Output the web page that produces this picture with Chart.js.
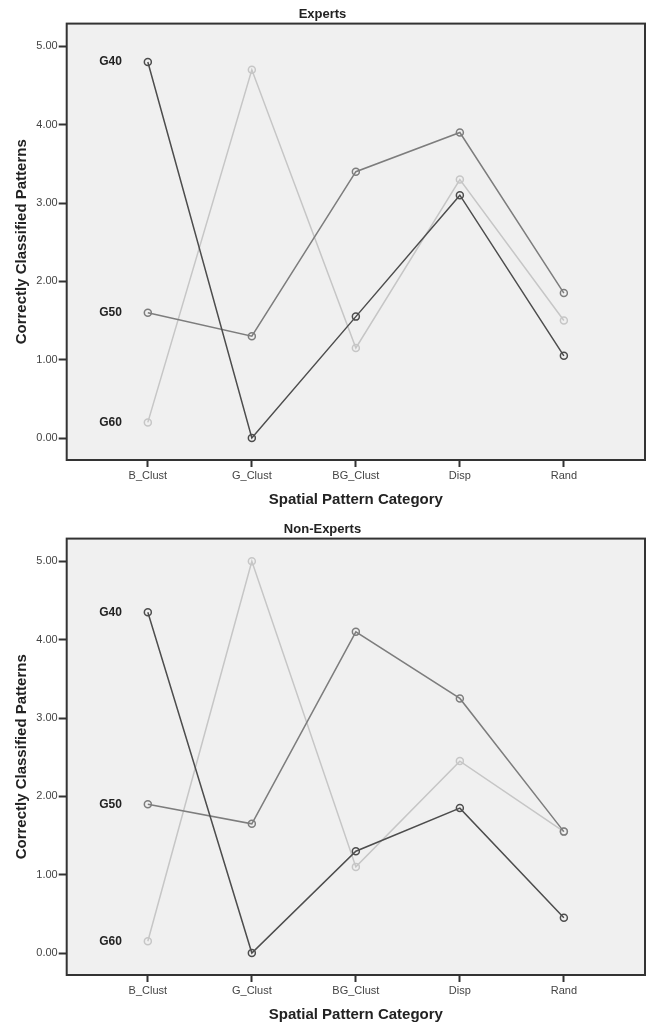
<!DOCTYPE html>
<html>
<head>
  <meta charset="UTF-8" />
  <title>Correctly Classified Patterns by Spatial Pattern Category</title>
  <script src="https://cdn.jsdelivr.net/npm/chart.js"></script>
  <style>
    body { margin: 0; background: #fff; }
    .panel { width: 646px; height: 515px; }
  </style>
</head>
<body>

<div class="panel"><canvas id="expertsChart" width="646" height="515"></canvas></div>
<div class="panel"><canvas id="nonExpertsChart" width="646" height="515"></canvas></div>

<script>
  // 1) Data
  const categories = ['B_Clust', 'G_Clust', 'BG_Clust', 'Disp', 'Rand'];
  const groups = ['G40', 'G50', 'G60'];
  const yTicks = [0, 1, 2, 3, 4, 5];

  const expertsG40 = [4.80, 0.00, 1.55, 3.10, 1.05];
  const expertsG50 = [1.60, 1.30, 3.40, 3.90, 1.85];
  const expertsG60 = [0.20, 4.70, 1.15, 3.30, 1.50];

  const nonExpertsG40 = [4.35, 0.00, 1.30, 1.85, 0.45];
  const nonExpertsG50 = [1.90, 1.65, 4.10, 3.25, 1.55];
  const nonExpertsG60 = [0.15, 5.00, 1.10, 2.45, 1.55];

  const groupColors = ['#4d4d4d', '#7d7d7d', '#c6c6c6'];
  const FONT = 'Arial, "Liberation Sans", sans-serif';

  // 2) Plot box: grey fill, dark frame, group labels next to first point
  const boxPlugin = {
    id: 'spssBox',
    beforeDraw(chart) {
      const a = chart.chartArea;
      const c = chart.ctx;
      c.save();
      c.fillStyle = '#f0f0f0';
      c.fillRect(a.left, a.top, a.right - a.left, a.bottom - a.top);
      c.restore();
    },
    afterDatasetsDraw(chart) {
      const a = chart.chartArea;
      const c = chart.ctx;
      const xs = chart.scales.x, ys = chart.scales.y;
      c.save();
      c.font = 'bold 12px ' + FONT;
      c.fillStyle = '#222';
      c.textAlign = 'right';
      c.textBaseline = 'middle';
      chart.data.datasets.forEach(ds => {
        c.fillText(ds.label, xs.getPixelForValue(0) - 26, ys.getPixelForValue(ds.data[0].y));
      });
      c.strokeStyle = '#333';
      c.lineWidth = 2;
      c.strokeRect(a.left, a.top, a.right - a.left, a.bottom - a.top);
      c.restore();
    }
  };

  function makeChart(id, title, seriesList) {
    const ctx = document.getElementById(id).getContext('2d');
    return new Chart(ctx, {
      type: 'line',
      data: {
        datasets: seriesList.map((vals, i) => ({
          label: groups[i],
          data: vals.map((v, j) => ({ x: j, y: v })),
          borderColor: groupColors[i],
          borderWidth: 1.5,
          pointRadius: 3.5,
          pointBorderWidth: 1.5,
          pointBorderColor: groupColors[i],
          pointBackgroundColor: 'rgba(0,0,0,0)',
          tension: 0,
          fill: false
        }))
      },
      options: {
        responsive: false,
        animation: false,
        events: [],
        layout: { autoPadding: false, padding: { left: 0, right: 1, top: 0, bottom: 0 } },
        plugins: {
          legend: { display: false },
          tooltip: { enabled: false },
          title: {
            display: true,
            text: title,
            color: '#222',
            font: { family: FONT, size: 13, weight: 'bold' },
            padding: { top: 7, bottom: 1 }
          }
        },
        scales: {
          x: {
            type: 'linear',
            min: -0.78,
            max: 4.78,
            afterBuildTicks: axis => { axis.ticks = categories.map((c, i) => ({ value: i })); },
            afterFit: axis => { axis.height = 55; },
            border: { display: false },
            grid: { drawOnChartArea: false, tickLength: 7, tickWidth: 2, tickColor: '#333' },
            ticks: {
              autoSkip: false,
              maxRotation: 0,
              padding: 2,
              color: '#444',
              font: { family: FONT, size: 11 },
              callback: v => categories[v]
            },
            title: {
              display: true,
              text: 'Spatial Pattern Category',
              color: '#222',
              font: { family: FONT, size: 15, weight: 'bold' },
              padding: { top: 0, bottom: 6.5 }
            }
          },
          y: {
            min: -0.28,
            max: 5.29,
            afterBuildTicks: axis => { axis.ticks = yTicks.map(v => ({ value: v })); },
            afterFit: axis => { axis.width = 66.7; },
            border: { display: false },
            grid: { drawOnChartArea: false, tickLength: 8, tickWidth: 2, tickColor: '#333' },
            ticks: {
              padding: 1,
              color: '#444',
              font: { family: FONT, size: 11 },
              callback: v => Number(v).toFixed(2)
            },
            title: {
              display: true,
              text: 'Correctly Classified Patterns',
              color: '#222',
              font: { family: FONT, size: 15, weight: 'bold' },
              padding: { top: 13, bottom: 0 }
            }
          }
        }
      },
      plugins: [boxPlugin]
    });
  }

  // 3) Build both panels
  makeChart('expertsChart', 'Experts', [expertsG40, expertsG50, expertsG60]);
  makeChart('nonExpertsChart', 'Non-Experts', [nonExpertsG40, nonExpertsG50, nonExpertsG60]);
</script>

</body>
</html>
